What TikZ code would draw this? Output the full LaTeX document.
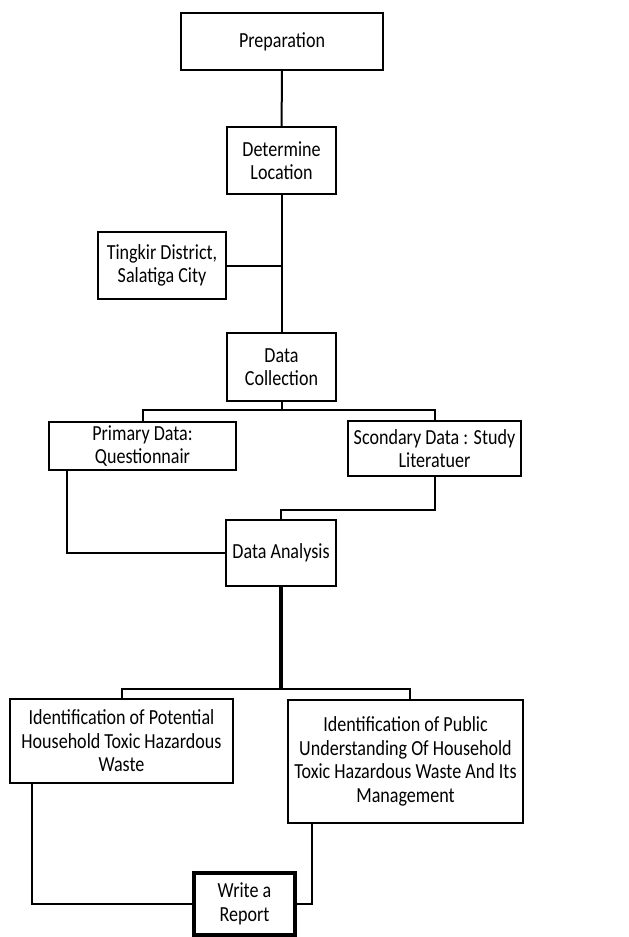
\documentclass[tikz,border=0pt]{standalone}
\usepackage{fontspec}
\setmainfont{Carlito}[FakeStretch=0.84]

\begin{document}
\begin{tikzpicture}[x=1pt, y=-1pt,
    box/.style={draw, align=center, font=\fontsize{21.5}{23.5}\selectfont, line width=2pt, inner sep=1pt},
    endbox/.style={draw, align=center, font=\fontsize{21.5}{23.5}\selectfont, line width=3.5pt, inner sep=1pt},
    link/.style={line width=2pt},
    trunk/.style={line width=3.5pt}
    ]
    \useasboundingbox (0,0) rectangle (629,937);
    \node[box, minimum width=202pt, minimum height=57pt] (prep) at (282,41.5) {Preparation};
    \node[box, minimum width=109pt, minimum height=67pt] (loc) at (281.5,160.5) {Determine\\Location};
    \node[box, minimum width=128pt, minimum height=67pt] (site) at (162,265.5) {Tingkir District,\\Salatiga City};
    \node[box, minimum width=109pt, minimum height=68pt] (collect) at (281.5,367) {Data\\Collection};
    \node[box, minimum width=187pt, minimum height=48pt] (primary) at (142.5,446) {Primary Data:\\Questionnair};
    \node[box, minimum width=173pt, minimum height=55pt] (secondary) at (434.5,448.5) {Scondary Data : Study\\Literatuer};
    \node[box, minimum width=110pt, minimum height=66pt] (analysis) at (281,553) {Data Analysis};
    \node[box, minimum width=223pt, minimum height=84pt] (potential) at (121.5,741) {Identification of Potential\\Household Toxic Hazardous\\Waste};
    \node[box, minimum width=235pt, minimum height=123pt] (public) at (405.5,761.5) {Identification of Public\\Understanding Of Household\\Toxic Hazardous Waste And Its\\Management};
    \node[endbox, minimum width=101pt, minimum height=62pt] (report) at (244.5,904) {Write a\\Report};

    \draw[link] (prep) -- (loc);
    \draw[link] (loc) -- (collect);
    \draw[link] (site) -- (site -| loc);
    \draw[link] (collect.south) -- ++(0,8) -| (primary.north);
    \draw[link] (collect.south) ++(0,8) -| (secondary.north);
    \draw[link] ([xshift=19pt]primary.south west) |- (analysis.west);
    \draw[link] (secondary.south) -- ++(0,33) -| (analysis.north);
    \draw[trunk] (analysis.south) -- ++(0,102);
    \draw[link] (analysis.south) ++(0,102) -| (potential.north);
    \draw[link] (analysis.south) ++(0,102) -| ([xshift=4pt]public.north);
    \draw[link] ([xshift=23pt]potential.south west) |- (report.west);
    \draw[link] ([xshift=25pt]public.south west) |- (report.east);
  \end{tikzpicture}
\end{document}
